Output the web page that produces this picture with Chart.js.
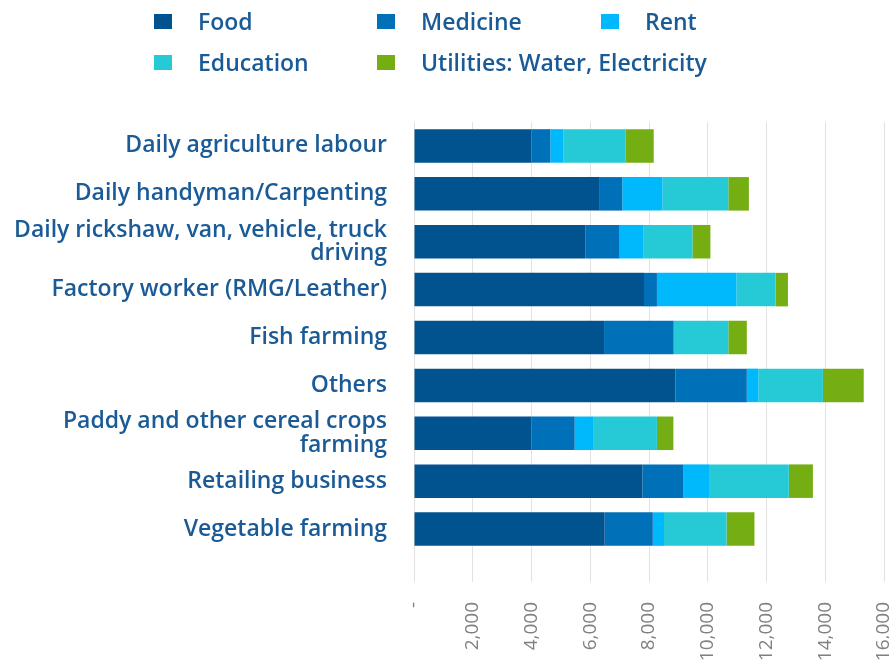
<!DOCTYPE html>
<html>
<head>
<meta charset="utf-8">
<script src="https://cdn.jsdelivr.net/npm/chart.js@4"></script>
<style>
  html, body { margin: 0; padding: 0; background: #ffffff; }
  #wrap { position: relative; width: 889px; height: 664px; overflow: hidden; }
  #chart { position: absolute; left: 0; top: 0; }
  .lg { position: absolute; display: flex; align-items: center; font-family: "Open Sans", sans-serif;
        font-weight: 600; font-size: 23px; color: #1a5b97; white-space: nowrap; line-height: 1.362; }
  .lg span.box { display: inline-block; width: 18px; height: 15px; margin-right: 26px; }
</style>
</head>
<body>
<div id="wrap">
  <canvas id="chart" width="889" height="664"></canvas>
</div>
<script>
const categories = [
  'Daily agriculture labour',
  'Daily handyman/Carpenting',
  ['Daily rickshaw, van, vehicle, truck', 'driving'],
  'Factory worker (RMG/Leather)',
  'Fish farming',
  'Others',
  ['Paddy and other cereal crops', 'farming'],
  'Retailing business',
  'Vegetable farming'
];
const seriesNames = ['Food', 'Medicine', 'Rent', 'Education', 'Utilities: Water, Electricity'];
const food      = [4000, 6300, 5830, 7830, 6470, 8900, 4000, 7780, 6490];
const medicine  = [ 640,  790, 1170,  440, 2370, 2430, 1470, 1380, 1640];
const rent      = [ 450, 1370,  800, 2710,    0,  390,  650,  910,  380];
const education = [2120, 2240, 1680, 1330, 1860, 2200, 2150, 2690, 2130];
const utilities = [ 950,  700,  610,  420,  630, 1390,  560,  820,  950];
const xTicks = [0, 2000, 4000, 6000, 8000, 10000, 12000, 14000, 16000];

const colors = ['#00538f', '#0070b8', '#00b8fc', '#26cad6', '#74ae12'];
const seriesValues = [food, medicine, rent, education, utilities];

// HTML legend laid out in a grid like the reference
const legendPos = [
  {left: 154, top: 6}, {left: 377, top: 6}, {left: 601, top: 6},
  {left: 154, top: 46.5}, {left: 377, top: 46.5}
];
const wrap = document.getElementById('wrap');
seriesNames.forEach((name, i) => {
  const d = document.createElement('div');
  d.className = 'lg';
  d.style.left = legendPos[i].left + 'px';
  d.style.top = legendPos[i].top + 'px';
  const b = document.createElement('span');
  b.className = 'box';
  b.style.background = colors[i];
  d.appendChild(b);
  d.appendChild(document.createTextNode(name));
  wrap.appendChild(d);
});

new Chart(document.getElementById('chart'), {
  type: 'bar',
  data: {
    labels: categories,
    datasets: seriesNames.map((name, i) => ({
      label: name,
      data: seriesValues[i],
      backgroundColor: colors[i],
      borderWidth: 0,
      categoryPercentage: 1.0,
      barPercentage: 0.70
    }))
  },
  options: {
    indexAxis: 'y',
    responsive: false,
    animation: false,
    layout: { padding: { top: 122, right: 5, left: 0, bottom: 0 } },
    plugins: {
      legend: { display: false },
      tooltip: { enabled: false }
    },
    scales: {
      x: {
        stacked: true,
        min: 0,
        max: 16000,
        afterBuildTicks: (scale) => { scale.ticks = xTicks.map(v => ({ value: v })); },
        afterFit: (scale) => { scale.height = 111; scale.paddingRight = 0; scale.paddingLeft = 0; },
        grid: { color: '#e2e2e2', lineWidth: 1, drawTicks: true, tickLength: 29, tickColor: '#e2e2e2' },
        border: { display: false },
        ticks: {
          autoSkip: false,
          minRotation: 90,
          maxRotation: 90,
          padding: 20,
          color: '#808080',
          font: { family: 'Open Sans', size: 19, weight: 'normal' },
          callback: (v) => v === 0 ? '-' : Number(v).toLocaleString('en-US')
        }
      },
      y: {
        stacked: true,
        afterFit: (scale) => { scale.width = 414; },
        grid: { display: false, drawTicks: false },
        border: { display: false },
        ticks: {
          autoSkip: false,
          padding: 27,
          color: '#1a5b97',
          font: { family: 'Open Sans', size: 23, weight: '600', lineHeight: 1.02 }
        }
      }
    }
  }
});
</script>
</body>
</html>
